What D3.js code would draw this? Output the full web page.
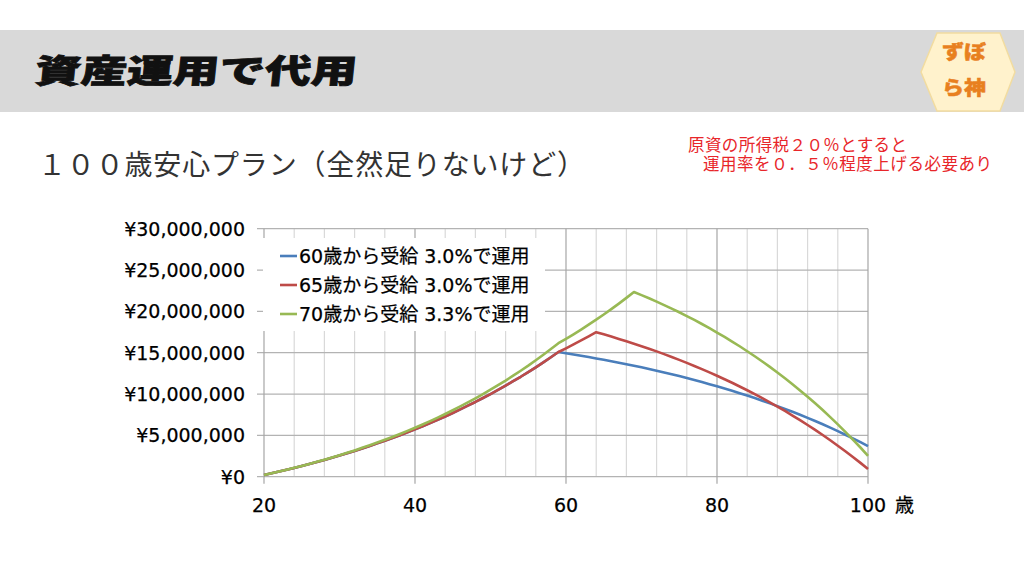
<!DOCTYPE html>
<html>
<head>
<meta charset="utf-8">
<script src="https://cdn.jsdelivr.net/npm/d3@7"></script>
<style>
  html, body { margin: 0; padding: 0; background: #ffffff; }
  svg { display: block; }
</style>
</head>
<body>
<svg id="chart" width="1024" height="576"></svg>
<script>
// ---------- DATA (values in 万円 = 10,000 yen) ----------
const ages = [20,21,22,23,24,25,26,27,28,29,30,31,32,33,34,35,36,37,38,39,
  40,41,42,43,44,45,46,47,48,49,50,51,52,53,54,55,56,57,58,59,
  60,61,62,63,64,65,66,67,68,69,70,71,72,73,74,75,76,77,78,79,
  80,81,82,83,84,85,86,87,88,89,90,91,92,93,94,95,96,97,98,99,100];

const series60 = [20,41,62,84,106,129,153,178,203,229,256,284,312,342,372,403,435,468,502,537,
  574,611,649,689,729,771,814,859,904,952,1000,1050,1102,1155,1209,1266,1323,1383,1445,1508,
  1494,1479,1463,1448,1431,1414,1397,1379,1361,1342,1323,1303,1282,1261,1239,1217,1193,1169,1145,1119,
  1093,1066,1039,1010,981,951,919,887,854,820,785,749,712,673,634,593,551,508,463,418,370];

const series65 = [20,41,62,84,106,129,153,178,203,229,256,284,312,342,372,403,435,468,502,537,
  574,611,649,689,729,771,814,859,904,952,1000,1050,1102,1155,1209,1266,1323,1383,1445,1508,
  1553,1600,1648,1697,1748,1722,1695,1667,1639,1609,1579,1548,1516,1483,1448,1413,1377,1340,1301,1262,
  1221,1179,1136,1091,1046,998,950,900,848,795,740,684,625,566,504,441,375,308,238,167,93];

const series70 = [20,41,62,84,107,130,155,180,206,232,260,289,318,349,380,413,446,481,517,554,
  592,632,673,715,759,804,850,898,948,999,1052,1107,1163,1222,1282,1344,1409,1475,1544,1615,
  1668,1723,1780,1839,1900,1962,2027,2094,2163,2234,2197,2158,2118,2076,2033,1989,1943,1896,1847,1796,
  1744,1691,1635,1578,1518,1457,1394,1328,1261,1191,1119,1044,967,888,806,721,633,543,449,353,253];

const seriesNames = ["60歳から受給 3.0%で運用", "65歳から受給 3.0%で運用", "70歳から受給 3.3%で運用"];
const seriesColors = ["#4a7ebb", "#be4b48", "#98b954"];

const xLabelTicks = [20, 40, 60, 80, 100];
const xGridTicks = [20,24,28,32,36,40,44,48,52,56,60,64,68,72,76,80,84,88,92,96,100];
const yTicks = [0, 500, 1000, 1500, 2000, 2500, 3000];
const xAxisTitle = "歳";

const headerTitle = "資産運用で代用";
const logoLines = ["ずぼ", "ら神"];
const subTitle = "１００歳安心プラン（全然足りないけど）";
const noteLines = ["原資の所得税２０％とすると", "運用率を０．５％程度上げる必要あり"];

// ---------- DRAW ----------
const svg = d3.select("#chart");
const fontLatin = "'DejaVu Sans', 'Noto Sans CJK JP', sans-serif";
const fontJP = "'Noto Sans CJK JP', sans-serif";

svg.append("rect").attr("width", 1024).attr("height", 576).attr("fill", "#ffffff");

// header band
svg.append("rect").attr("x", 0).attr("y", 30).attr("width", 1024).attr("height", 82).attr("fill", "#d9d9d9");

svg.append("text")
  .attr("x", 0).attr("y", 0)
  .attr("transform", "translate(34,83) skewX(-6)")
  .attr("font-family", fontJP).attr("font-weight", 900).attr("font-size", 33)
  .attr("textLength", 322).attr("lengthAdjust", "spacingAndGlyphs")
  .attr("stroke", "#111").attr("stroke-width", 0.8)
  .attr("fill", "#111").text(headerTitle);

// logo hexagon
const hex = [[921,72],[937,33],[1000,33],[1015,72],[1000,111],[937,111]];
svg.append("polygon")
  .attr("points", hex.map(p => p.join(",")).join(" "))
  .attr("fill", "#fff2cc").attr("stroke", "#f2dca0").attr("stroke-width", 1.5);
logoLines.forEach((t, i) => {
  svg.append("text")
    .attr("x", 942).attr("y", i === 0 ? 59 : 95)
    .attr("font-family", fontJP).attr("font-weight", 900).attr("font-size", 19)
    .attr("textLength", 44).attr("lengthAdjust", "spacingAndGlyphs")
    .attr("stroke", "#e8801f").attr("stroke-width", 0.5)
    .attr("fill", "#e8801f").text(t);
});

// subtitle
svg.append("text")
  .attr("x", 38).attr("y", 175)
  .attr("font-family", fontJP).attr("font-weight", 400).attr("font-size", 28)
  .attr("textLength", 547).attr("lengthAdjust", "spacing")
  .attr("fill", "#333333").text(subTitle);

// note (one text block, two lines)
const note = svg.append("text")
  .attr("font-family", fontJP).attr("font-size", 16.5).attr("fill", "#e8262a");
note.append("tspan").attr("x", 688).attr("y", 151)
  .attr("textLength", 219).attr("lengthAdjust", "spacing").text(noteLines[0]);
note.append("tspan").attr("x", 703).attr("y", 170)
  .attr("textLength", 289).attr("lengthAdjust", "spacing").text(noteLines[1]);

// scales
const x = d3.scaleLinear().domain([20, 100]).range([264, 868]);
const y = d3.scaleLinear().domain([0, 3000]).range([476.7, 228.7]);

const g = svg.append("g");

// minor vertical gridlines
g.selectAll(".vminor").data(xGridTicks.filter(d => !xLabelTicks.includes(d))).join("line")
  .attr("x1", d => x(d)).attr("x2", d => x(d))
  .attr("y1", y(3000)).attr("y2", y(0))
  .attr("stroke", "#d9d9d9").attr("stroke-width", 1.2);

// horizontal gridlines (with left tick)
g.selectAll(".hgrid").data(yTicks).join("line")
  .attr("x1", 257).attr("x2", 868)
  .attr("y1", d => y(d)).attr("y2", d => y(d))
  .attr("stroke", "#b3b3b3").attr("stroke-width", 1.2);

// major vertical gridlines (with bottom tick)
g.selectAll(".vmajor").data(xLabelTicks).join("line")
  .attr("x1", d => x(d)).attr("x2", d => x(d))
  .attr("y1", y(3000)).attr("y2", y(0) + 7)
  .attr("stroke", "#a6a6a6").attr("stroke-width", 1.2);

// y labels
const yFmt = d => "¥" + d3.format(",")(d * 10000);
g.selectAll(".ylab").data(yTicks).join("text")
  .attr("x", 245).attr("y", d => y(d)).attr("dy", "0.36em")
  .attr("text-anchor", "end")
  .attr("font-family", fontLatin).attr("font-size", 19).attr("fill", "#000")
  .attr("stroke", "#000").attr("stroke-width", 0.25)
  .text(yFmt);

// x labels
g.selectAll(".xlab").data(xLabelTicks).join("text")
  .attr("x", d => x(d)).attr("y", 505).attr("dy", "0.36em")
  .attr("text-anchor", "middle")
  .attr("font-family", fontLatin).attr("font-size", 19).attr("fill", "#000")
  .attr("stroke", "#000").attr("stroke-width", 0.25)
  .text(d => d);
g.append("text").attr("x", 895).attr("y", 505).attr("dy", "0.36em")
  .attr("font-family", fontJP).attr("font-size", 19).attr("fill", "#000")
  .attr("stroke", "#000").attr("stroke-width", 0.25).text(xAxisTitle);

// lines
const allSeries = [series60, series65, series70];
const line = d3.line().x((d, i) => x(ages[i])).y(d => y(d));
allSeries.forEach((s, k) => {
  g.append("path").datum(s)
    .attr("d", line)
    .attr("fill", "none").attr("stroke", seriesColors[k])
    .attr("stroke-width", 2.6).attr("stroke-linejoin", "round");
});

// legend
const lg = svg.append("g");
lg.append("rect").attr("x", 263).attr("y", 238).attr("width", 282).attr("height", 93).attr("fill", "#ffffff");
seriesNames.forEach((name, i) => {
  const cy = 256 + i * 29;
  lg.append("line").attr("x1", 280).attr("x2", 297).attr("y1", cy).attr("y2", cy)
    .attr("stroke", seriesColors[i]).attr("stroke-width", 2.6);
  lg.append("text").attr("x", 299).attr("y", cy).attr("dy", "0.36em")
    .attr("font-family", fontLatin).attr("font-size", 19).attr("fill", "#000")
    .attr("stroke", "#000").attr("stroke-width", 0.25).text(name);
});
</script>
</body>
</html>
